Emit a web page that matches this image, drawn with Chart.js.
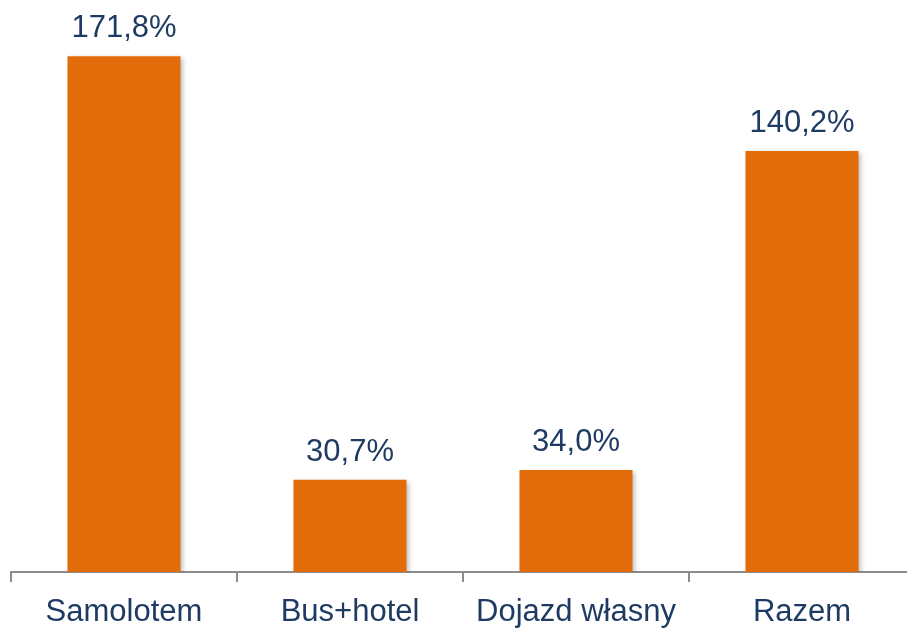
<!DOCTYPE html>
<html>
<head>
<meta charset="utf-8">
<script src="https://cdn.jsdelivr.net/npm/chart.js@4/dist/chart.umd.min.js"></script>
<style>
    html, body { margin: 0; padding: 0; overflow: hidden; background: #fff; }
    #wrap { position: absolute; left: 0; top: 0; width: 920px; height: 628px; }
</style>
</head>
<body>
<div id="wrap"><canvas id="grafico"></canvas></div>
<script>
const kategorie = ["Samolotem", "Bus+hotel", "Dojazd własny", "Razem"];
const wartosci = [171.8, 30.7, 34.0, 140.2];
const etykiety = ["171,8%", "30,7%", "34,0%", "140,2%"];

const kolorSlupka = "#E36C0A";
const kolorTekstu = "#1F3B63";

// shadow under the bars
const cienPlugin = {
    id: "cien",
    beforeDatasetDraw(chart) {
        const ctx = chart.ctx;
        ctx.save();
        ctx.shadowColor = "rgba(0,0,0,0.28)";
        ctx.shadowBlur = 5;
        ctx.shadowOffsetX = 2;
        ctx.shadowOffsetY = 2;
    },
    afterDatasetDraw(chart) {
        chart.ctx.restore();
    }
};

// value labels above bars
const etykietyPlugin = {
    id: "etykiety",
    afterDatasetsDraw(chart) {
        const ctx = chart.ctx;
        const meta = chart.getDatasetMeta(0);
        ctx.save();
        ctx.font = "31px 'Liberation Sans', Arial, sans-serif";
        ctx.fillStyle = kolorTekstu;
        ctx.textAlign = "center";
        ctx.textBaseline = "alphabetic";
        meta.data.forEach((bar, i) => {
            ctx.fillText(etykiety[i], bar.x, bar.y - 19);
        });
        ctx.restore();
    }
};

new Chart(document.getElementById("grafico").getContext("2d"), {
    type: "bar",
    data: {
        labels: kategorie,
        datasets: [{
            data: wartosci,
            backgroundColor: kolorSlupka,
            barPercentage: 0.5,
            categoryPercentage: 1.0
        }]
    },
    options: {
        responsive: true,
        maintainAspectRatio: false,
        animation: false,
        layout: { padding: { left: 11, right: 5, top: 0, bottom: 0 } },
        plugins: {
            legend: { display: false },
            tooltip: { enabled: false }
        },
        scales: {
            x: {
                afterFit(scale) { scale.height = 56; },
                border: { display: true, color: "#8C8C8C", width: 2 },
                grid: {
                    drawOnChartArea: false,
                    drawTicks: true,
                    tickLength: 10,
                    color: "#8C8C8C",
                    lineWidth: 2
                },
                ticks: {
                    color: kolorTekstu,
                    padding: 12,
                    font: { family: "'Liberation Sans', Arial, sans-serif", size: 31 }
                }
            },
            y: {
                display: false,
                min: 0,
                max: 190.5
            }
        }
    },
    plugins: [cienPlugin, etykietyPlugin]
});
</script>
</body>
</html>
